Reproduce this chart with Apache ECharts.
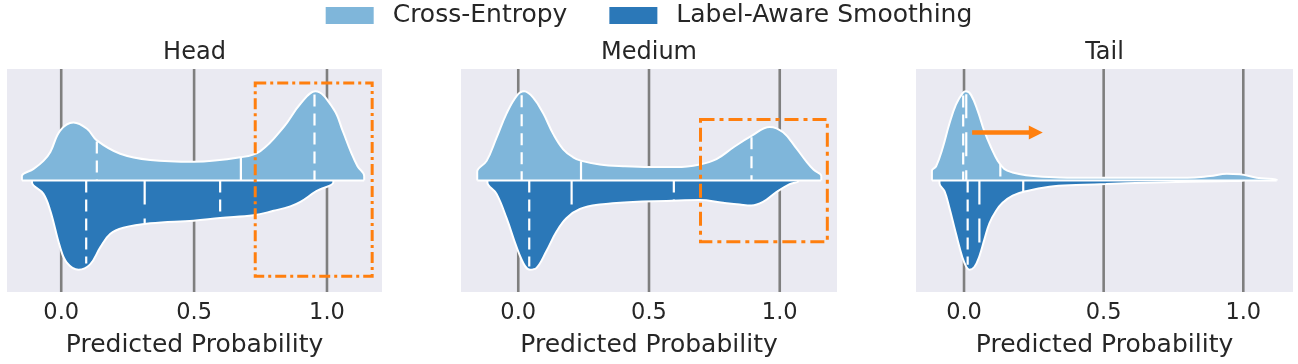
<!DOCTYPE html>
<html><head><meta charset="utf-8">
<script src="https://cdn.jsdelivr.net/npm/echarts@6/dist/echarts.min.js"></script>
<style>html,body{margin:0;padding:0;background:#fff}#c{width:1298px;height:364px}</style>
</head><body><div id="c"></div>
<script>
// ---------------- DATA ----------------
const panels = ['Head', 'Medium', 'Tail'];
const seriesNames = ['Cross-Entropy', 'Label-Aware Smoothing'];
const tickValues = [0, 0.5, 1.0];
const tickLabels = ['0.0', '0.5', '1.0'];
const xLabel = 'Predicted Probability';
const xRanges = [[-0.204, 1.207], [-0.219, 1.219], [-0.172, 1.178]];

// relative density (1 = widest) along predicted probability
const headCEx = [-0.148, -0.104, -0.067, -0.041, -0.004, 0.046, 0.097, 0.134, 0.222, 0.335, 0.498, 0.674, 0.749, 0.837, 0.900, 0.956, 1.025, 1.060, 1.090, 1.115, 1.140];
const headCEd = [0.05, 0.13, 0.22, 0.32, 0.56, 0.65, 0.58, 0.45, 0.30, 0.23, 0.21, 0.26, 0.33, 0.60, 0.86, 1.00, 0.80, 0.55, 0.32, 0.16, 0.05];
const headLASx = [-0.110, -0.067, -0.041, -0.004, 0.021, 0.065, 0.109, 0.147, 0.184, 0.234, 0.335, 0.498, 0.598, 0.724, 0.799, 0.862, 0.900, 0.960, 1.024];
const headLASd = [0.02, 0.15, 0.34, 0.75, 0.92, 1.00, 0.94, 0.75, 0.60, 0.53, 0.48, 0.45, 0.42, 0.39, 0.34, 0.29, 0.24, 0.12, 0.02];

const mediumCEx = [-0.157, -0.121, -0.083, -0.045, -0.006, 0.022, 0.057, 0.096, 0.134, 0.172, 0.210, 0.242, 0.312, 0.401, 0.503, 0.605, 0.694, 0.758, 0.822, 0.892, 0.962, 1.013, 1.064, 1.100, 1.130, 1.159];
const mediumCEd = [0.10, 0.22, 0.48, 0.75, 0.95, 1.00, 0.93, 0.75, 0.52, 0.35, 0.26, 0.22, 0.18, 0.16, 0.15, 0.15, 0.18, 0.24, 0.37, 0.50, 0.60, 0.54, 0.36, 0.22, 0.12, 0.05];
const mediumLASx = [-0.118, -0.083, -0.045, -0.006, 0.026, 0.045, 0.070, 0.108, 0.147, 0.185, 0.236, 0.312, 0.439, 0.567, 0.694, 0.783, 0.847, 0.892, 0.936, 0.987, 1.038, 1.070];
const mediumLASd = [0.02, 0.15, 0.42, 0.75, 0.96, 1.00, 0.98, 0.79, 0.57, 0.42, 0.32, 0.27, 0.24, 0.23, 0.22, 0.25, 0.27, 0.28, 0.24, 0.13, 0.04, 0.01];

const tailCEx = [-0.115, -0.100, -0.076, -0.053, -0.029, -0.005, 0.007, 0.025, 0.049, 0.073, 0.097, 0.121, 0.144, 0.174, 0.222, 0.306, 0.425, 0.508, 0.650, 0.800, 0.881, 0.941, 0.988, 1.048, 1.120];
const tailCEd = [0.11, 0.16, 0.37, 0.63, 0.85, 0.98, 1.00, 0.96, 0.78, 0.55, 0.37, 0.22, 0.13, 0.09, 0.06, 0.04, 0.03, 0.03, 0.03, 0.03, 0.05, 0.075, 0.07, 0.03, 0.01];
const tailLASx = [-0.088, -0.070, -0.053, -0.035, -0.017, 0.001, 0.019, 0.037, 0.055, 0.073, 0.091, 0.115, 0.138, 0.174, 0.222, 0.306, 0.401, 0.508, 0.650, 0.800, 0.920, 1.000];
const tailLASd = [0.03, 0.12, 0.30, 0.52, 0.74, 0.92, 1.00, 0.97, 0.85, 0.66, 0.48, 0.34, 0.25, 0.17, 0.12, 0.07, 0.05, 0.04, 0.025, 0.015, 0.008, 0.004];

// quartiles [Q1, median, Q3]
const headCEquart = [0.134, 0.676, 0.953];
const headLASquart = [0.094, 0.314, 0.598];
const mediumCEquart = [0.013, 0.240, 0.892];
const mediumLASquart = [0.042, 0.204, 0.595];
const tailCEquart = [-0.003, 0.008, 0.130];
const tailLASquart = [0.013, 0.055, 0.212];

// annotations (data units): box [x0, x1, y0, y1], arrow [x0, x1, y]
const headBox = [0.730, 1.170, -0.429, 0.437];
const mediumBox = [0.697, 1.182, -0.275, 0.273];
const tailArrow = [0.029, 0.282, 0.215];

// ---------------- STYLE / LAYOUT ----------------
const FONT = 'DejaVu Sans';
const TEXT = '#262626';
const CE_COLOR = '#7fb6da';
const LAS_COLOR = '#2b78b8';
const ORANGE = '#ff7f0e';
const GRID_LEFTS = [7, 461, 916];
const GRID_WIDTHS = [375, 376, 377];
const GRID_TOP = 69, GRID_H = 223;
const HALF = 0.4;

const violins = [
  {ce: [headCEx, headCEd], las: [headLASx, headLASd], ceQ: headCEquart, lasQ: headLASquart},
  {ce: [mediumCEx, mediumCEd], las: [mediumLASx, mediumLASd], ceQ: mediumCEquart, lasQ: mediumLASquart},
  {ce: [tailCEx, tailCEd], las: [tailLASx, tailLASd], ceQ: tailCEquart, lasQ: tailLASquart}
];

function interp(xs, ds, q) {
  if (q <= xs[0]) return ds[0];
  for (let k = 1; k < xs.length; k++) {
    if (q <= xs[k]) {
      const t = (q - xs[k - 1]) / (xs[k] - xs[k - 1]);
      return ds[k - 1] + t * (ds[k] - ds[k - 1]);
    }
  }
  return ds[ds.length - 1];
}

function halfData(xs, ds, sign) {
  const out = [[xs[0], 0]];
  xs.forEach((x, k) => out.push([x, sign * ds[k] * HALF]));
  out.push([xs[xs.length - 1], 0]);
  return out;
}

const grids = [], xAxes = [], yAxes = [], series = [], titles = [];
panels.forEach((name, i) => {
  grids.push({left: GRID_LEFTS[i], width: GRID_WIDTHS[i], top: GRID_TOP, height: GRID_H,
    show: true, backgroundColor: '#eaeaf2', borderWidth: 0});
  xAxes.push({
    type: 'value', gridIndex: i, min: xRanges[i][0], max: xRanges[i][1],
    name: xLabel, nameLocation: 'middle', nameGap: 41,
    nameTextStyle: {fontSize: 25, color: TEXT, fontFamily: FONT},
    axisLine: {show: false}, axisTick: {show: false, customValues: tickValues},
    axisLabel: {customValues: tickValues, fontSize: 22.5, color: TEXT, fontFamily: FONT, margin: 10,
      formatter: v => { const k = tickValues.findIndex(t => Math.abs(t - v) < 1e-9); return k >= 0 ? tickLabels[k] : v.toFixed(1); }},
    splitLine: {show: false}
  });
  yAxes.push({type: 'value', gridIndex: i, min: -0.5, max: 0.5, show: false});
  titles.push({text: name, left: GRID_LEFTS[i] + GRID_WIDTHS[i] / 2, top: 41, textAlign: 'center', padding: 0,
    textStyle: {fontSize: 24, fontWeight: 'normal', color: TEXT, fontFamily: FONT}});

  // gridlines
  series.push({
    type: 'custom', xAxisIndex: i, yAxisIndex: i, z: 1, silent: true,
    data: tickValues.map(v => [v, 0]), encode: {x: 0, y: 1},
    renderItem: (params, api) => {
      const cs = params.coordSys;
      const x = api.coord([api.value(0), 0])[0];
      return {type: 'line', shape: {x1: x, y1: cs.y, x2: x, y2: cs.y + cs.height},
        style: {stroke: '#7f7f7f', lineWidth: 2.6}};
    }
  });

  const v = violins[i];
  series.push({
    name: seriesNames[0], type: 'line', xAxisIndex: i, yAxisIndex: i, z: 2,
    data: halfData(v.ce[0], v.ce[1], 1), smooth: 0.4, showSymbol: false, symbol: 'none',
    itemStyle: {color: CE_COLOR}, lineStyle: {color: '#ffffff', width: 2},
    areaStyle: {color: CE_COLOR, opacity: 1}, silent: true
  });
  series.push({
    name: seriesNames[1], type: 'line', xAxisIndex: i, yAxisIndex: i, z: 2,
    data: halfData(v.las[0], v.las[1], -1), smooth: 0.4, showSymbol: false, symbol: 'none',
    itemStyle: {color: LAS_COLOR}, lineStyle: {color: '#ffffff', width: 2},
    areaStyle: {color: LAS_COLOR, opacity: 1}, silent: true
  });
  const lo = Math.min(v.ce[0][0], v.las[0][0]);
  const hi = Math.max(v.ce[0][v.ce[0].length - 1], v.las[0][v.las[0].length - 1]);
  series.push({
    name: 'split', type: 'line', xAxisIndex: i, yAxisIndex: i, z: 3, silent: true,
    data: [[lo, 0], [hi, 0]], showSymbol: false, symbol: 'none',
    lineStyle: {color: '#ffffff', width: 2.2}
  });

  // quartile lines: [q, height, kind(0 quartile / 1 median), side(1 top / -1 bottom)]
  const qData = [];
  v.ceQ.forEach((q, k) => qData.push([q, interp(v.ce[0], v.ce[1], q) * HALF * 0.97, k === 1 ? 1 : 0, 1]));
  v.lasQ.forEach((q, k) => qData.push([q, -interp(v.las[0], v.las[1], q) * HALF * 0.97, k === 1 ? 1 : 0, -1]));
  series.push({
    type: 'custom', xAxisIndex: i, yAxisIndex: i, z: 4, silent: true,
    data: qData, encode: {x: 0, y: 1},
    renderItem: (params, api) => {
      const q = api.value(0), h = api.value(1), kind = api.value(2), side = api.value(3);
      const pEnd = api.coord([q, h]);
      const pC = api.coord([q, 0]);
      const a = side > 0 ? pEnd : pC, b = side > 0 ? pC : pEnd;
      return {type: 'line', shape: {x1: a[0], y1: a[1], x2: b[0], y2: b[1]},
        style: {stroke: '#ffffff', lineWidth: 2.2, lineDash: kind === 1 ? [24, 14] : [12, 7]}};
    }
  });
});

// annotations
function boxSeries(idx, box, dash) {
  return {
    type: 'custom', xAxisIndex: idx, yAxisIndex: idx, z: 6, silent: true,
    data: [box], encode: {x: [0, 1], y: [2, 3]},
    renderItem: (params, api) => {
      const p0 = api.coord([api.value(0), api.value(3)]);
      const p1 = api.coord([api.value(1), api.value(2)]);
      return {type: 'rect', shape: {x: p0[0], y: p0[1], width: p1[0] - p0[0], height: p1[1] - p0[1]},
        style: {fill: 'none', stroke: ORANGE, lineWidth: 3, lineDash: dash}};
    }
  };
}
series.push(boxSeries(0, headBox, [11, 4, 3, 4]));
series.push(boxSeries(1, mediumBox, [14, 5, 4, 5]));
series.push({
  type: 'custom', xAxisIndex: 2, yAxisIndex: 2, z: 6, silent: true,
  data: [tailArrow], encode: {x: [0, 1], y: 2},
  renderItem: (params, api) => {
    const p0 = api.coord([api.value(0), api.value(2)]);
    const p1 = api.coord([api.value(1), api.value(2)]);
    const hl = 14, hw = 7;
    return {type: 'group', children: [
      {type: 'line', shape: {x1: p0[0], y1: p0[1], x2: p1[0] - hl + 1, y2: p1[1]},
        style: {stroke: ORANGE, lineWidth: 4.5}},
      {type: 'polygon', shape: {points: [[p1[0], p1[1]], [p1[0] - hl, p1[1] - hw], [p1[0] - hl, p1[1] + hw]]},
        style: {fill: ORANGE}}
    ]};
  }
});

const chart = echarts.init(document.getElementById('c'), null, {renderer: 'canvas'});
chart.setOption({
  animation: false,
  backgroundColor: '#ffffff',
  textStyle: {fontFamily: FONT},
  title: titles,
  legend: {
    top: 3, left: 'center', padding: 0, itemGap: 42, itemWidth: 48, itemHeight: 17, selectedMode: false,
    textStyle: {fontSize: 25, color: TEXT, fontFamily: FONT, padding: [0, 0, 0, 14]},
    data: [
      {name: seriesNames[0], icon: 'rect', itemStyle: {color: CE_COLOR, borderWidth: 0}},
      {name: seriesNames[1], icon: 'rect', itemStyle: {color: LAS_COLOR, borderWidth: 0}}
    ]
  },
  grid: grids, xAxis: xAxes, yAxis: yAxes, series: series
});
</script></body></html>
